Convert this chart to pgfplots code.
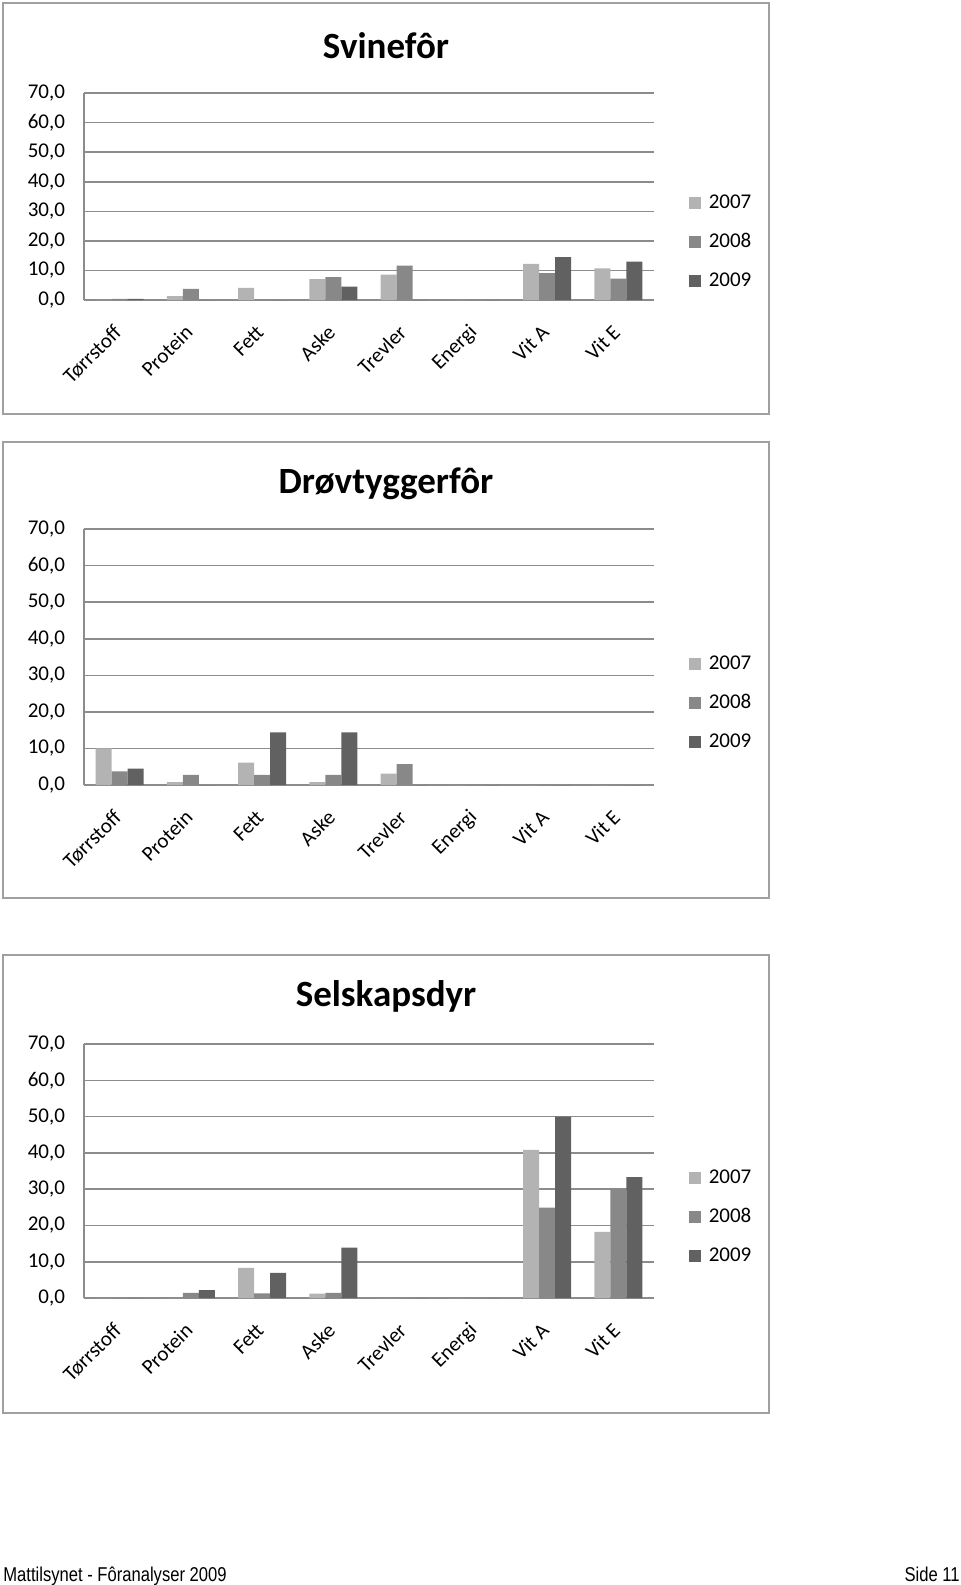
\documentclass[border=0pt]{standalone}
\usepackage{fontspec}
\setmainfont{Carlito}
\newfontfamily\footfont{Liberation Sans}
\usepackage{graphicx}
\usepackage{pgfplots}
\pgfplotsset{compat=1.18}
\usepackage{pgfplotstable}

\definecolor{c07}{HTML}{B3B3B3}
\definecolor{c08}{HTML}{888888}
\definecolor{c09}{HTML}{616161}
\definecolor{gridc}{HTML}{8C8C8C}
\definecolor{boxc}{HTML}{A0A0A0}

% Svinefor
\pgfplotstableread{
x a b c
0 0 0.4 0.4
1 1.3 3.8 0
2 4.1 0 0
3 7.1 7.7 4.5
4 8.6 11.6 0
5 0 0 0
6 12.2 9.1 14.5
7 10.7 7.2 13.0
}\svin

% Drovtyggerfor
\pgfplotstableread{
x a b c
0 10.0 3.7 4.5
1 0.8 2.8 0
2 6.1 2.8 14.4
3 0.8 2.8 14.4
4 3.1 5.7 0
5 0 0 0
6 0 0 0
7 0 0 0
}\drov

% Selskapsdyr
\pgfplotstableread{
x a b c
0 0 0 0
1 0 1.4 2.2
2 8.3 1.3 6.9
3 1.2 1.4 13.9
4 0 0 0
5 0 0 0
6 40.8 24.9 50.0
7 18.2 30.0 33.3
}\sels

\pgfplotsset{
  chart/.style={
    scale only axis, width=285pt,
    ybar=0pt, bar width=8pt,
    xmin=-0.5, xmax=7.5, ymin=0, ymax=70,
    xtick={0,...,7},
    xticklabels={Tørrstoff,Protein,Fett,Aske,Trevler,Energi,Vit A,Vit E},
    ytick={0,10,...,70},
    axis x line=bottom, axis y line=left,
    axis line style={draw=gridc, line width=0.8pt, -},
    major tick length=0pt,
    ymajorgrids, grid style={draw=gridc, line width=0.8pt},
    tick label style={font=\fontsize{10.5}{12}\selectfont},
    yticklabel style={/pgf/number format/.cd, fixed, fixed zerofill, precision=1, use comma, assume math mode=true},
    yticklabel shift=6pt,
    xticklabel style={xshift=1.5pt, rotate=45, anchor=east},
    xticklabel shift=12pt,
    legend image code/.code={\fill[##1] (0pt,-3pt) rectangle (6pt,3pt);},
    legend style={draw=none, fill=none, inner sep=0pt, outer sep=0pt,
      font=\fontsize{10.5}{12}\selectfont, row sep=7pt, column sep=2pt,
      cells={anchor=west}},
  },
  b07/.style={fill=c07, draw=none},
  b08/.style={fill=c08, draw=none},
  b09/.style={fill=c09, draw=none},
}

\begin{document}
\begin{tikzpicture}
\useasboundingbox (0,0) rectangle (480pt,-792.5pt);

% frames
\draw[boxc, line width=1pt] (1.5pt,-1.5pt) rectangle (384.5pt,-207pt);
\draw[boxc, line width=1pt] (1.5pt,-220.75pt) rectangle (384.5pt,-449pt);
\draw[boxc, line width=1pt] (1.5pt,-477.5pt) rectangle (384.5pt,-706.5pt);

% titles
\node[anchor=base, font=\bfseries\fontsize{18.5}{22}\selectfont] at (193pt,-29.3pt) {Svinefôr};
\node[anchor=base, font=\bfseries\fontsize{18.5}{22}\selectfont] at (193pt,-246.7pt) {Drøvtyggerfôr};
\node[anchor=base, font=\bfseries\fontsize{18.5}{22}\selectfont] at (193pt,-503.3pt) {Selskapsdyr};

\begin{axis}[chart, at={(42pt,-150pt)}, anchor=south west, height=103.5pt,
  legend style={at={(axis description cs:1.061,0.28)}, anchor=west}]
\addplot[b07] table[x=x, y=a] {\svin};
\addplot[b08] table[x=x, y=b] {\svin};
\addplot[b09] table[x=x, y=c] {\svin};
\legend{2007,2008,2009}
\end{axis}

\begin{axis}[chart, at={(42pt,-392.5pt)}, anchor=south west, height=128pt,
  legend style={at={(axis description cs:1.061,0.32)}, anchor=west}]
\addplot[b07] table[x=x, y=a] {\drov};
\addplot[b08] table[x=x, y=b] {\drov};
\addplot[b09] table[x=x, y=c] {\drov};
\legend{2007,2008,2009}
\end{axis}

\begin{axis}[chart, at={(42pt,-649pt)}, anchor=south west, height=127pt,
  legend style={at={(axis description cs:1.061,0.32)}, anchor=west}]
\addplot[b07] table[x=x, y=a] {\sels};
\addplot[b08] table[x=x, y=b] {\sels};
\addplot[b09] table[x=x, y=c] {\sels};
\legend{2007,2008,2009}
\end{axis}

% footer
\node[anchor=base west, inner sep=0pt, font=\footfont\fontsize{10}{12}\selectfont] at (1.5pt,-790.5pt) {\scalebox{0.83}[1]{Mattilsynet - Fôranalyser 2009}};
\node[anchor=base east, inner sep=0pt, font=\footfont\fontsize{10}{12}\selectfont] at (480pt,-790.5pt) {\scalebox{0.83}[1]{Side 11}};
\end{tikzpicture}
\end{document}
